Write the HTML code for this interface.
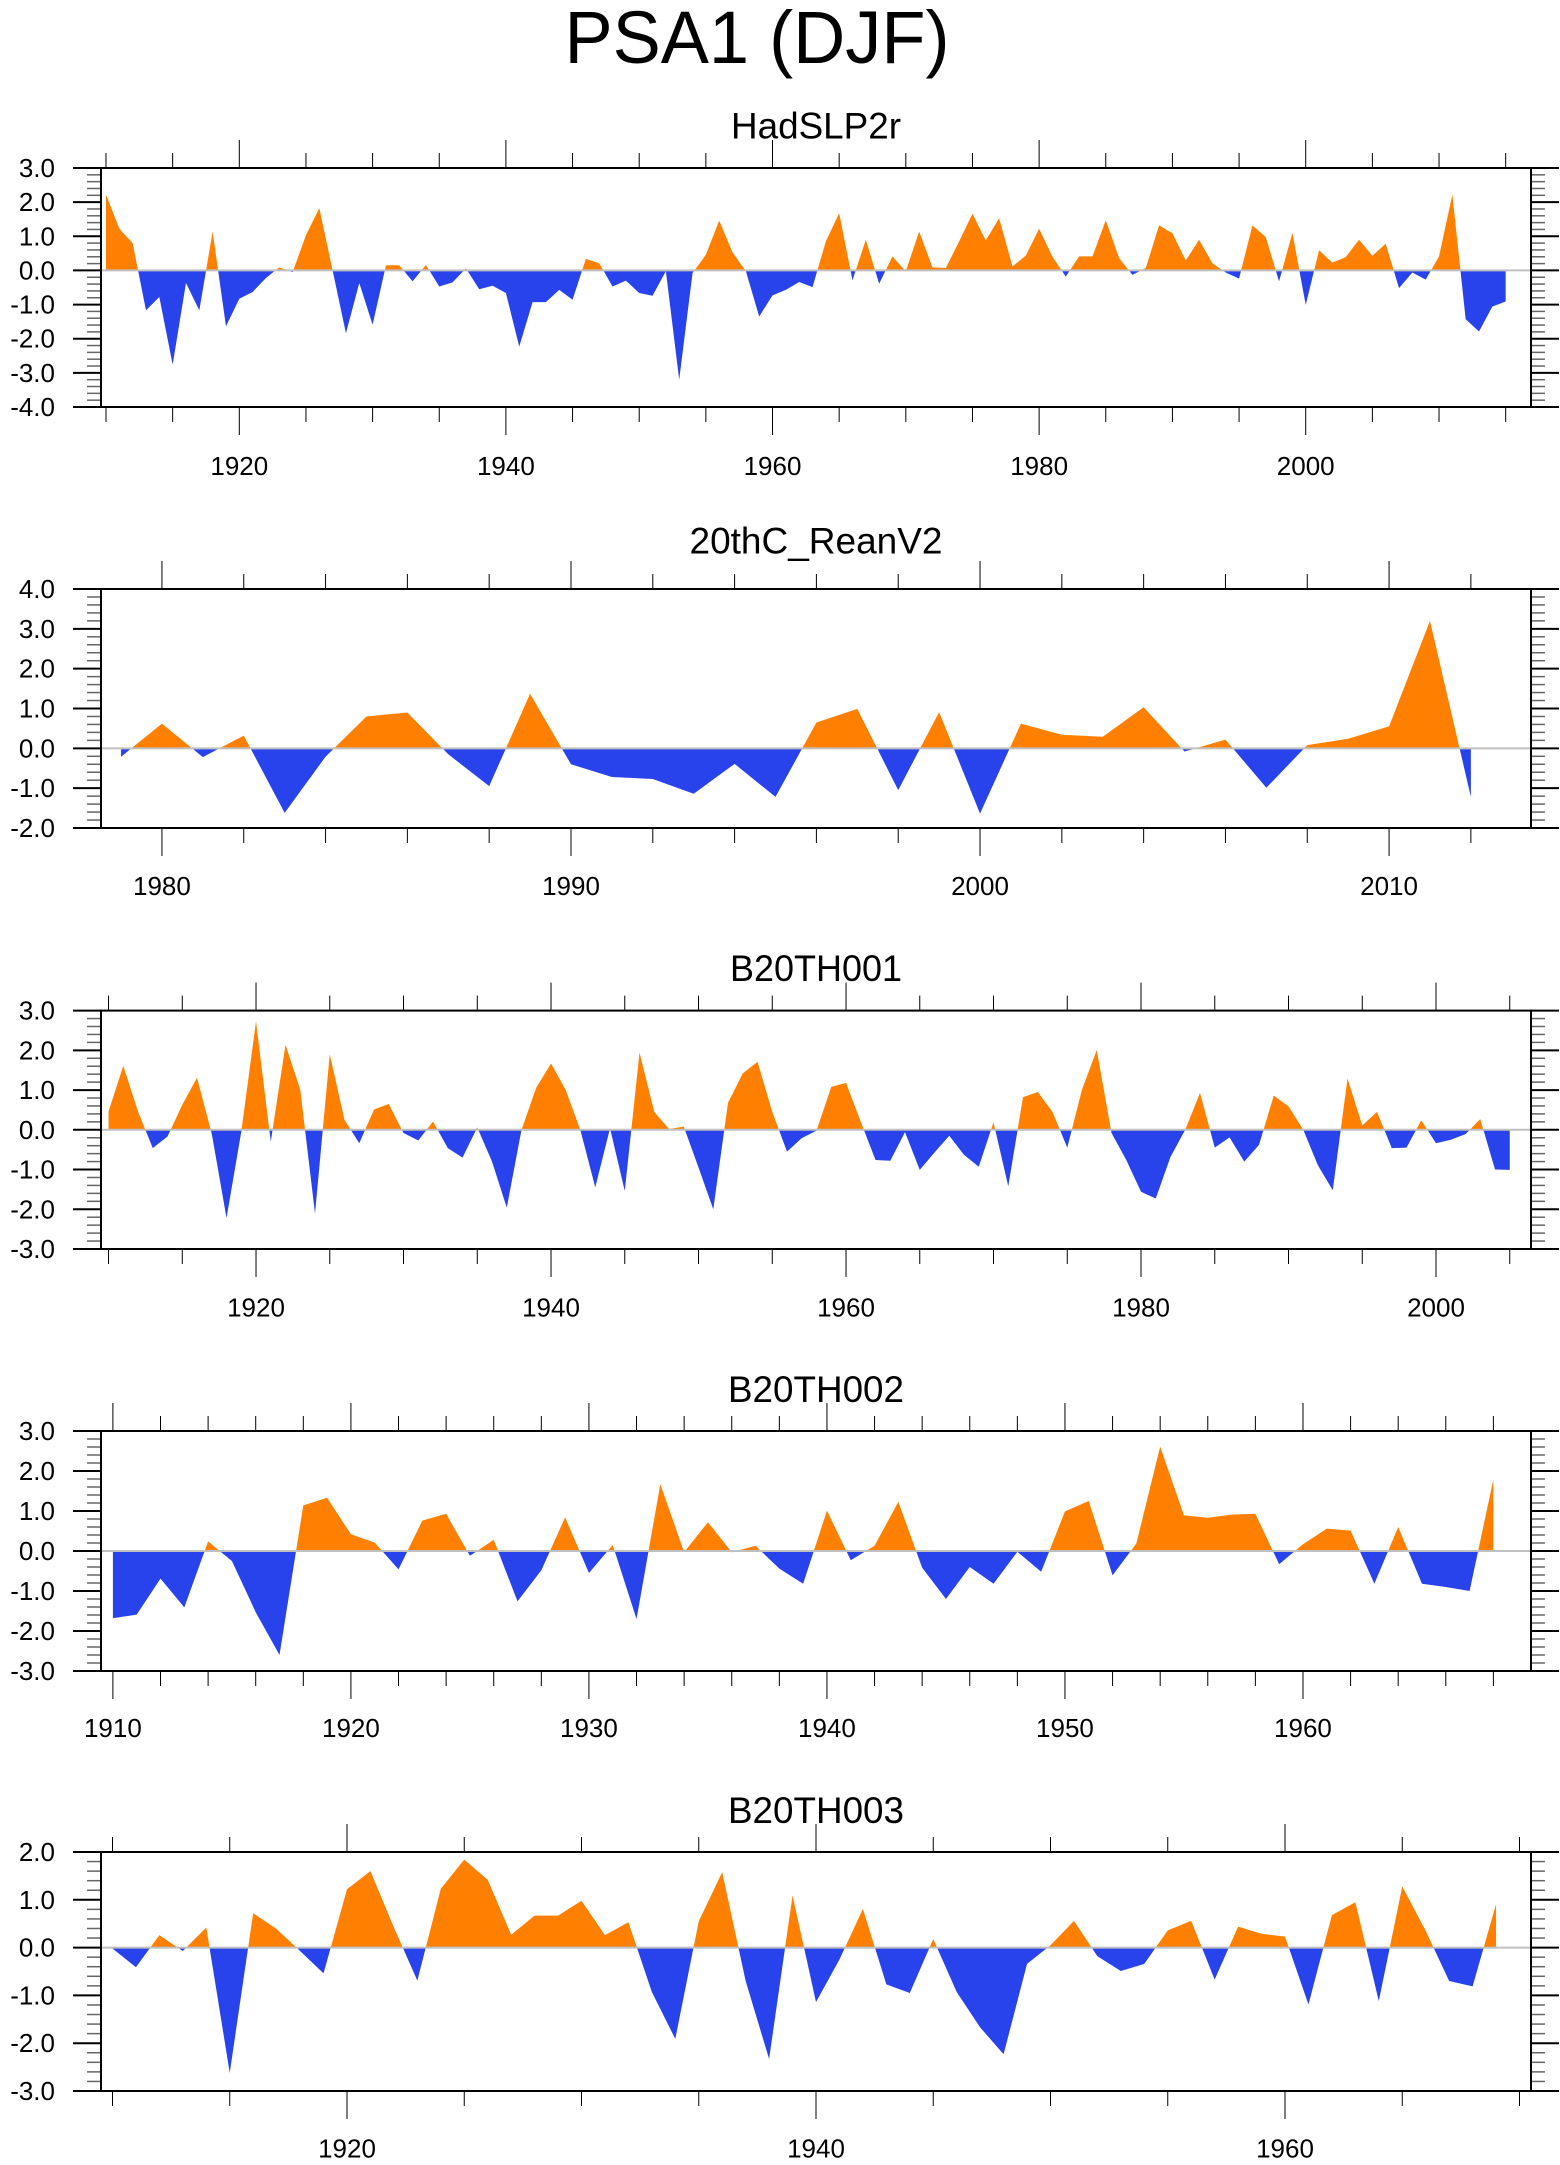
<!DOCTYPE html>
<html><head><meta charset="utf-8">
<style>
html,body{margin:0;padding:0;background:#fff;}
svg{display:block;font-family:"Liberation Sans",sans-serif;}
</style></head>
<body>
<svg id="chart" width="1560" height="2165" viewBox="0 0 1560 2165" xmlns="http://www.w3.org/2000/svg">
<text x="757" y="63" font-size="74" text-anchor="middle" textLength="385" lengthAdjust="spacingAndGlyphs">PSA1 (DJF)</text>
</svg>
<script>
// ---- data ----
const hadYears0 = 1910;
const hadValues = [2.22,1.22,0.80,-1.17,-0.78,-2.76,-0.37,-1.17,1.14,-1.64,
-0.83,-0.63,-0.22,0.09,-0.05,1.03,1.83,0.0,-1.84,-0.37,
-1.59,0.15,0.15,-0.32,0.16,-0.47,-0.35,0.06,-0.55,-0.45,
-0.66,-2.23,-0.93,-0.93,-0.57,-0.86,0.34,0.21,-0.47,-0.30,
-0.66,-0.74,-0.02,-3.20,-0.08,0.46,1.46,0.53,-0.02,-1.35,
-0.73,-0.57,-0.34,-0.49,0.85,1.68,-0.29,0.90,-0.39,0.41,
-0.03,1.14,0.09,0.07,0.85,1.66,0.88,1.53,0.12,0.43,
1.22,0.40,-0.18,0.41,0.41,1.47,0.36,-0.13,0.07,1.32,
1.09,0.29,0.90,0.21,-0.06,-0.24,1.32,0.98,-0.32,1.10,
-1.01,0.59,0.23,0.39,0.90,0.43,0.78,-0.52,-0.06,-0.27,
0.41,2.22,-1.43,-1.79,-1.06,-0.91];
const reanYears0 = 1979;
const reanValues = [-0.21,0.62,-0.22,0.32,-1.62,-0.21,0.80,0.90,-0.15,-0.95,
1.37,-0.40,-0.72,-0.77,-1.14,-0.39,-1.22,0.65,0.99,-1.05,
0.91,-1.64,0.62,0.34,0.29,1.03,-0.08,0.22,-0.99,0.08,
0.24,0.55,3.20,-1.22];
const b001Years0 = 1910;
const b001Values = [0.46,1.61,0.46,-0.46,-0.17,0.63,1.31,-0.10,-2.22,-0.05,
2.73,-0.30,2.14,1.01,-2.11,1.90,0.25,-0.34,0.51,0.65,
-0.08,-0.27,0.21,-0.46,-0.70,0.06,-0.80,-1.96,0.0,1.06,
1.67,1.00,-0.02,-1.45,0.04,-1.54,1.94,0.45,0.02,0.08,
-0.95,-2.00,0.68,1.42,1.71,0.45,-0.55,-0.21,-0.02,1.08,
1.18,0.20,-0.76,-0.78,-0.06,-1.01,-0.57,-0.15,-0.63,-0.93,
0.19,-1.42,0.82,0.95,0.45,-0.45,1.01,2.01,-0.08,-0.76,
-1.56,-1.73,-0.68,0.0,0.93,-0.45,-0.19,-0.80,-0.38,0.86,
0.59,0.0,-0.90,-1.52,1.29,0.11,0.45,-0.46,-0.45,0.24,
-0.34,-0.25,-0.11,0.27,-1.00,-1.01];
const b002Years0 = 1910;
const b002Values = [-1.68,-1.59,-0.69,-1.41,0.24,-0.25,-1.53,-2.60,1.14,1.33,
0.42,0.21,-0.46,0.76,0.93,-0.12,0.28,-1.26,-0.48,0.84,
-0.55,0.15,-1.70,1.67,-0.03,0.72,-0.03,0.13,-0.44,-0.82,
1.01,-0.23,0.13,1.23,-0.42,-1.20,-0.40,-0.82,-0.02,-0.52,
0.99,1.25,-0.61,0.19,2.61,0.89,0.83,0.91,0.93,-0.33,
0.17,0.56,0.51,-0.82,0.60,-0.82,-0.90,-1.00,1.79];
const b003Years0 = 1910;
const b003Values = [-0.02,-0.41,0.26,-0.07,0.42,-2.62,0.72,0.39,-0.07,-0.54,
1.22,1.60,0.42,-0.69,1.23,1.84,1.42,0.27,0.67,0.67,
0.98,0.26,0.53,-0.93,-1.91,0.55,1.58,-0.70,-2.33,1.09,
-1.14,-0.25,0.81,-0.77,-0.95,0.18,-0.93,-1.67,-2.23,-0.34,
0.05,0.56,-0.18,-0.49,-0.34,0.36,0.56,-0.67,0.44,0.29,
0.23,-1.19,0.68,0.95,-1.12,1.28,0.35,-0.70,-0.81,0.91];
const hadXTicks = [1920,1940,1960,1980,2000];
const reanXTicks = [1980,1990,2000,2010];
const b001XTicks = [1920,1940,1960,1980,2000];
const b002XTicks = [1910,1920,1930,1940,1950,1960];
const b003XTicks = [1920,1940,1960];

// ---- layout ----
const NS = "http://www.w3.org/2000/svg";
const svg = document.getElementById('chart');
const X0 = 101, X1 = 1531;
const panels = [
 {key:'hadslp2r', title:'HadSLP2r', titleW:170, top:168, bot:407, ymin:-4, ymax:3, xmin:1909.625, xmax:2016.9, y0:hadYears0, vals:hadValues, ticks:hadXTicks, minor:5, tb:138.7, lb:475},
 {key:'20thc-reanv2', title:'20thC_ReanV2', titleW:253, top:589, bot:828, ymin:-2, ymax:4, xmin:1978.51, xmax:2013.47, y0:reanYears0, vals:reanValues, ticks:reanXTicks, minor:2, tb:553.6, lb:895},
 {key:'b20th001', title:'B20TH001', titleW:172, top:1010.6, bot:1249, ymin:-3, ymax:3, xmin:1909.49, xmax:2006.44, y0:b001Years0, vals:b001Values, ticks:b001XTicks, minor:5, tb:981, lb:1316.6},
 {key:'b20th002', title:'B20TH002', titleW:176, top:1431, bot:1671, ymin:-3, ymax:3, xmin:1909.5, xmax:1969.58, y0:b002Years0, vals:b002Values, ticks:b002XTicks, minor:2, tb:1402, lb:1737},
 {key:'b20th003', title:'B20TH003', titleW:176, top:1852, bot:2091, ymin:-3, ymax:2, xmin:1909.51, xmax:1970.49, y0:b003Years0, vals:b003Values, ticks:b003XTicks, minor:5, tb:1823, lb:2157.6}
];
function mk(tag, attrs, parent){
  const e = document.createElementNS(NS, tag);
  for (const k in attrs) e.setAttribute(k, attrs[k]);
  (parent||svg).appendChild(e);
  return e;
}
panels.forEach((p, pi) => {
  const g = mk('g', {});
  
  
  const xs = yr => X0 + (yr - p.xmin) / (p.xmax - p.xmin) * (X1 - X0);
  const ys = v => p.bot - (v - p.ymin) / (p.ymax - p.ymin) * (p.bot - p.top);
  const zy = ys(0);
  // title
  const t = mk('text', {x:816, y:p.tb, 'font-size':37, 'text-anchor':'middle', textLength:p.titleW, lengthAdjust:'spacingAndGlyphs'}, g);
  t.textContent = p.title;
  
  
  // clips
  const defs = mk('defs', {}, g);
  const cA = mk('clipPath', {id:'ca'+pi}, defs);
  mk('rect', {x:X0, y:p.top, width:X1-X0, height:zy-p.top}, cA);
  const cB = mk('clipPath', {id:'cb'+pi}, defs);
  mk('rect', {x:X0, y:zy, width:X1-X0, height:p.bot-zy}, cB);
  // polygon
  let pts = [];
  p.vals.forEach((v,i) => pts.push(xs(p.y0+i).toFixed(2)+','+ys(v).toFixed(2)));
  const xFirst = xs(p.y0), xLast = xs(p.y0 + p.vals.length - 1);
  const poly = xFirst.toFixed(2)+','+zy+' '+pts.join(' ')+' '+xLast.toFixed(2)+','+zy;
  const pos = mk('polygon', {points:poly, fill:'#FF8000', 'clip-path':'url(#ca'+pi+')'}, g);
  
  
  const neg = mk('polygon', {points:poly, fill:'#2843EC', 'clip-path':'url(#cb'+pi+')'}, g);
  
  
  // zero line
  const zl = mk('line', {x1:X0, x2:X1, y1:zy, y2:zy, stroke:'#c0c0c0', 'stroke-width':2}, g);
  
  
  // x ticks
  const yStart = Math.ceil(p.xmin / p.minor) * p.minor;
  const majorStep = p.ticks[1] - p.ticks[0];
  for (let yr = yStart; yr <= p.xmax; yr += p.minor) {
    const x = xs(yr);
    const major = (yr % majorStep) === 0;
    const L = major ? 28 : 15;
    mk('line', {x1:x, x2:x, y1:p.top, y2:p.top-L, stroke:'#000', 'stroke-width':1}, g);
    mk('line', {x1:x, x2:x, y1:p.bot, y2:p.bot+L, stroke:'#000', 'stroke-width':1}, g);
  }
  p.ticks.forEach(yr => {
    const l = mk('text', {x:xs(yr), y:p.lb, 'font-size':26, 'text-anchor':'middle'}, g);
    l.textContent = String(yr);
    
    
  });
  // y ticks
  for (let k = Math.round(p.ymin*5); k <= Math.round(p.ymax*5); k++) {
    const v = k/5, y = ys(v);
    const major = (k % 5) === 0;
    const L = major ? 28 : 14;
    const col = major ? '#000' : '#666';
    mk('line', {x1:X0, x2:X0-L, y1:y, y2:y, stroke:col, 'stroke-width':major?2:1.5}, g);
    mk('line', {x1:X1, x2:X1+L, y1:y, y2:y, stroke:col, 'stroke-width':major?2:1.5}, g);
    if (major) {
      const l = mk('text', {x:55, y:y+9, 'font-size':26, 'text-anchor':'end'}, g);
      l.textContent = v.toFixed(1);
      
      
    }
  }
  // frame
  const fr = mk('rect', {x:X0, y:p.top, width:X1-X0, height:p.bot-p.top, fill:'none', stroke:'#000', 'stroke-width':2}, g);
  
  
});
</script>
</body></html>
